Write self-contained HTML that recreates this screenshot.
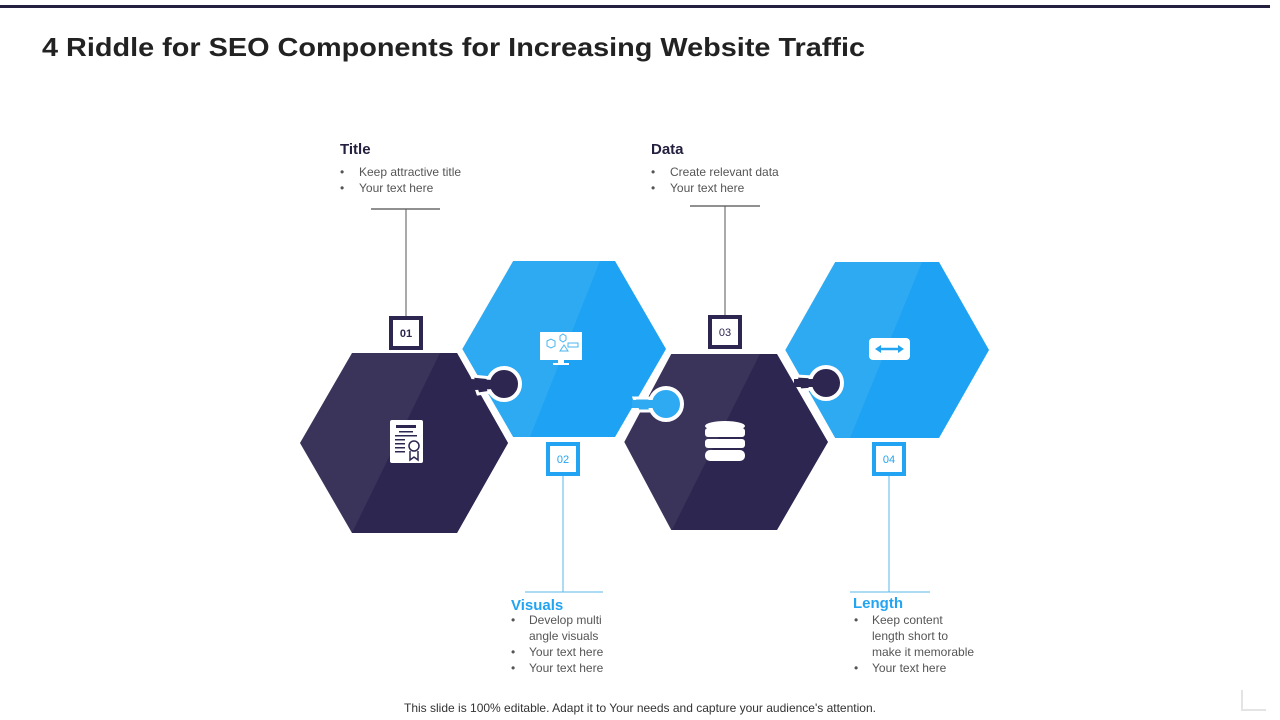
<!DOCTYPE html>
<html><head><meta charset="utf-8"><style>
html,body{margin:0;padding:0;background:#fff;}
svg{display:block;font-family:"Liberation Sans",sans-serif;}
</style></head><body>
<svg width="1280" height="720" viewBox="0 0 1280 720" xmlns="http://www.w3.org/2000/svg">
<rect x="0" y="5" width="1270" height="3" fill="#23213f"/>
<text x="42" y="56" font-size="26" font-weight="bold" fill="#222" textLength="823" lengthAdjust="spacingAndGlyphs">4 Riddle for SEO Components for Increasing Website Traffic</text>

<g stroke="#555" stroke-width="1">
<line x1="371" y1="209" x2="440" y2="209" stroke="#222"/>
<line x1="406" y1="209" x2="406" y2="316"/>
<line x1="690" y1="206" x2="760" y2="206" stroke="#222"/>
<line x1="725" y1="206" x2="725" y2="315"/>
</g>
<g stroke="#5ab8e8" stroke-width="1">
<line x1="525" y1="592" x2="603" y2="592"/>
<line x1="563" y1="476" x2="563" y2="592"/>
<line x1="850" y1="592" x2="930" y2="592"/>
<line x1="889" y1="476" x2="889" y2="592"/>
</g>

<polygon points="300,443 352,353 457,353 508,443 457,533 352,533" fill="#3a335a"/>
<polygon points="440,353 457,353 508,443 457,533 352,533" fill="#2c2650"/>
<polygon points="460,349 512,259 616,259 668,349 616,439 512,439" fill="#2eaaf2" stroke="#fff" stroke-width="4"/>
<polygon points="600,261 615,261 666,349 615,437 530,437" fill="#1ea2f4"/>
<polygon points="472,376 492,378 492,392 478,394" fill="#2c2650" stroke="#fff" stroke-width="3"/>
<circle cx="504" cy="384" r="16" fill="#2c2650" stroke="#fff" stroke-width="4"/>
<polygon points="470,379 494,380 494,389 475,390" fill="#2c2650"/>

<polygon points="622,442 670,352 778,352 830,442 778,532 670,532" fill="#3a335a" stroke="#fff" stroke-width="4"/>
<polygon points="760,354 777,354 828,442 777,530 672,530" fill="#2c2650"/>
<polygon points="634,398 654,398 654,411 638,411" fill="#2eaaf2" stroke="#fff" stroke-width="3"/>
<circle cx="666" cy="404" r="16" fill="#2eaaf2" stroke="#fff" stroke-width="4"/>
<rect x="632" y="400" width="24" height="8" fill="#2eaaf2"/>

<polygon points="783,350 834,260 940,260 991,350 940,440 834,440" fill="#2eaaf2" stroke="#fff" stroke-width="4"/>
<polygon points="922,262 939,262 989,350 939,438 850,438" fill="#1ea2f4"/>
<polygon points="796,376 814,377 814,389 800,390" fill="#2c2650" stroke="#fff" stroke-width="3"/>
<circle cx="826" cy="383" r="16" fill="#2c2650" stroke="#fff" stroke-width="4"/>
<rect x="794" y="379" width="22" height="8" fill="#2c2650"/>

<g>
<rect x="390" y="420" width="33" height="43" rx="2" fill="#fff"/>
<rect x="396" y="425" width="20" height="3" fill="#2c2650"/>
<rect x="399" y="431" width="14" height="1.5" fill="#2c2650"/>
<rect x="395" y="435" width="22" height="1.5" fill="#2c2650"/>
<rect x="395" y="439" width="10" height="1.5" fill="#2c2650"/>
<rect x="395" y="443" width="10" height="1.5" fill="#2c2650"/>
<rect x="395" y="447" width="10" height="1.5" fill="#2c2650"/>
<rect x="395" y="451" width="10" height="1.5" fill="#2c2650"/>
<circle cx="414" cy="446" r="5" fill="none" stroke="#2c2650" stroke-width="1.5"/>
<path d="M410 451 v9 l4 -3 l4 3 v-9" fill="none" stroke="#2c2650" stroke-width="1.5"/>
</g>
<g>
<rect x="540" y="332" width="42" height="28" fill="#fff"/>
<rect x="558" y="360" width="6" height="3" fill="#fff"/>
<rect x="553" y="363" width="16" height="2" fill="#fff"/>
<g fill="none" stroke="#4ab6f0" stroke-width="1">
<polygon points="547,341 551,339 555,341 555,346 551,348 547,346"/>
<polygon points="560,336 563,334 566,336 566,340 563,342 560,340"/>
<polygon points="560,351 564,345 568,351"/>
<rect x="568" y="343" width="10" height="4"/>
</g>
</g>
<g fill="#fff">
<ellipse cx="725" cy="426" rx="20" ry="5"/>
<rect x="705" y="428" width="40" height="9" rx="3"/>
<rect x="705" y="439" width="40" height="9" rx="3"/>
<rect x="705" y="450" width="40" height="11" rx="5"/>
</g>
<rect x="869" y="338" width="41" height="22" rx="4" fill="#fff"/>
<g stroke="#22a4f3" stroke-width="2.5" fill="#22a4f3">
<line x1="878" y1="349" x2="901" y2="349"/>
<polygon points="875,349 881,345 881,353" stroke="none"/>
<polygon points="904,349 898,345 898,353" stroke="none"/>
</g>

<g font-size="11" font-weight="bold" text-anchor="middle">
<rect x="391" y="318" width="30" height="30" fill="#fff" stroke="#2c2650" stroke-width="4"/>
<text x="406" y="337" fill="#2c2650">01</text>
<rect x="548" y="444" width="30" height="30" fill="#fff" stroke="#22a4f3" stroke-width="4"/>
<text x="563" y="463" fill="#22a4f3" font-weight="normal">02</text>
<rect x="710" y="317" width="30" height="30" fill="#fff" stroke="#2c2650" stroke-width="4"/>
<text x="725" y="336" fill="#2c2650" font-weight="normal">03</text>
<rect x="874" y="444" width="30" height="30" fill="#fff" stroke="#22a4f3" stroke-width="4"/>
<text x="889" y="463" fill="#22a4f3" font-weight="normal">04</text>
</g>

<g font-size="12" fill="#555">
<text x="340" y="154" font-size="15" font-weight="bold" fill="#23213f">Title</text>
<text x="340" y="176">•</text><text x="359" y="176">Keep attractive title</text>
<text x="340" y="192">•</text><text x="359" y="192">Your text here</text>

<text x="651" y="154" font-size="15" font-weight="bold" fill="#23213f">Data</text>
<text x="651" y="176">•</text><text x="670" y="176">Create relevant  data</text>
<text x="651" y="192">•</text><text x="670" y="192">Your text here</text>

<text x="511" y="610" font-size="15" font-weight="bold" fill="#22a4f3">Visuals</text>
<text x="511" y="624">•</text><text x="529" y="624">Develop  multi</text>
<text x="529" y="640">angle visuals</text>
<text x="511" y="656">•</text><text x="529" y="656">Your text here</text>
<text x="511" y="672">•</text><text x="529" y="672">Your text here</text>

<text x="853" y="608" font-size="15" font-weight="bold" fill="#22a4f3">Length</text>
<text x="854" y="624">•</text><text x="872" y="624">Keep content</text>
<text x="872" y="640">length  short to</text>
<text x="872" y="656">make it memorable</text>
<text x="854" y="672">•</text><text x="872" y="672">Your text here</text>

<text x="640" y="712" text-anchor="middle" fill="#333">This slide is 100% editable. Adapt it to Your needs and capture your audience's attention.</text>
</g>
<path d="M1242 690 v20 h24" fill="none" stroke="#e4e4e4" stroke-width="2"/>
</svg>
</body></html>
